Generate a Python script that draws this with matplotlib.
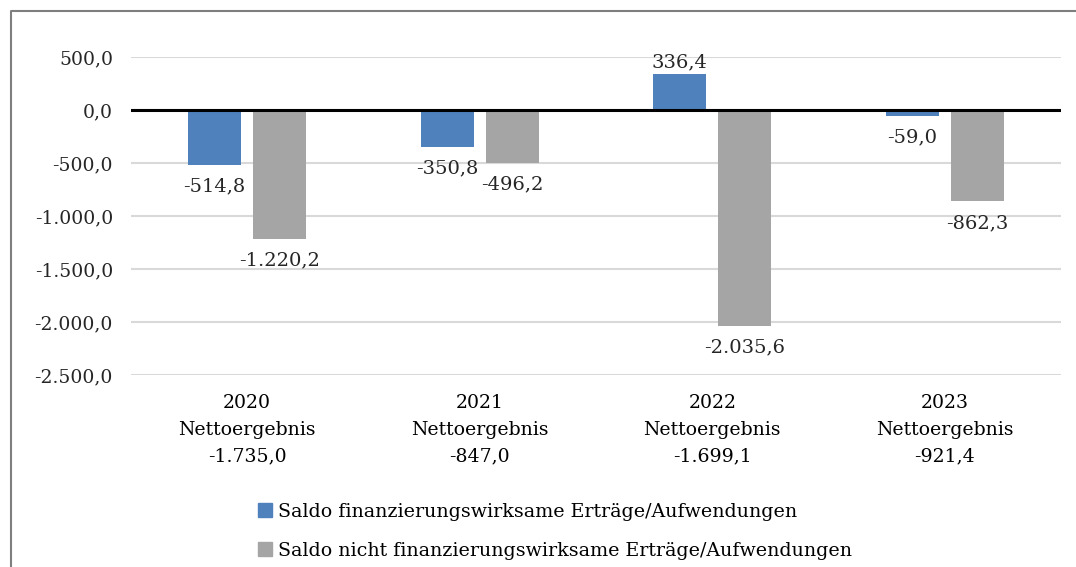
import matplotlib.pyplot as plt
import numpy as np
from matplotlib.lines import Line2D
from matplotlib.patches import Patch

plt.rcParams["font.family"] = ["DejaVu Serif"]

years = ["2020", "2021", "2022", "2023"]
netto = ["-1.735,0", "-847,0", "-1.699,1", "-921,4"]
fin_wirksam = [-514.8, -350.8, 336.4, -59.0]
nicht_fin_wirksam = [-1220.2, -496.2, -2035.6, -862.3]
labels = [
    "Saldo finanzierungswirksame Erträge/Aufwendungen",
    "Saldo nicht finanzierungswirksame Erträge/Aufwendungen",
]
yticks = [500, 0, -500, -1000, -1500, -2000, -2500]

blue = "#4f81bd"
grey = "#a5a5a5"


def fmt_de(v):
    s = f"{v:,.1f}"
    return s.replace(",", "X").replace(".", ",").replace("X", ".")


fig = plt.figure(figsize=(10.76, 5.67), dpi=100)

# outer chart frame (only left and top edges are visible in the crop)
fx, fy = 10.5 / 1076, 1 - 10.5 / 567
fig.lines.append(Line2D([fx, fx, 1.0], [0.0, fy, fy], transform=fig.transFigure,
                        color="#7f7f7f", linewidth=1.5))

ax = fig.add_axes([131 / 1076, (567 - 375) / 567, 930 / 1076, 318 / 567])

x = np.arange(len(years))
w = 0.228
off = 0.14
b1 = ax.bar(x - off, fin_wirksam, w, color=blue, zorder=2)
b2 = ax.bar(x + off, nicht_fin_wirksam, w, color=grey, zorder=2)

for bars, vals in [(b1, fin_wirksam), (b2, nicht_fin_wirksam)]:
    for rect, v in zip(bars, vals):
        cx = rect.get_x() + rect.get_width() / 2
        if v >= 0:
            ax.annotate(fmt_de(v), (cx, v), xytext=(0, 2), textcoords="offset points",
                        ha="center", va="bottom", fontsize=14, color="#262626")
        else:
            ax.annotate(fmt_de(v), (cx, v), xytext=(0, -9), textcoords="offset points",
                        ha="center", va="top", fontsize=14, color="#262626")

ax.axhline(0, color="black", linewidth=2.2, zorder=3)
ax.set_ylim(-2500, 500)
ax.set_xlim(-0.5, len(years) - 0.5)
ax.set_yticks(yticks)
ax.set_yticklabels([fmt_de(v) for v in yticks], fontsize=13.5, color="#262626")
ax.yaxis.grid(True, color="#d9d9d9", linewidth=1.5, zorder=0)
ax.set_axisbelow(True)
ax.tick_params(axis="y", length=0, pad=13)
ax.tick_params(axis="x", length=0, pad=14)
ax.set_xticks(x)
ax.set_xticklabels([f"{y}\nNettoergebnis\n{n}" for y, n in zip(years, netto)],
                   fontsize=13.6, color="black", linespacing=1.6)
for s in ax.spines.values():
    s.set_visible(False)

handles = [Patch(color=blue), Patch(color=grey)]
fig.legend(handles, labels, loc="upper left", bbox_to_anchor=(250 / 1076, 1 - 495 / 567),
           frameon=False, fontsize=13.7, handlelength=0.75, handleheight=0.75,
           handletextpad=0.3, labelspacing=1.1, borderaxespad=0)

fig.savefig("out.png", dpi=100)
